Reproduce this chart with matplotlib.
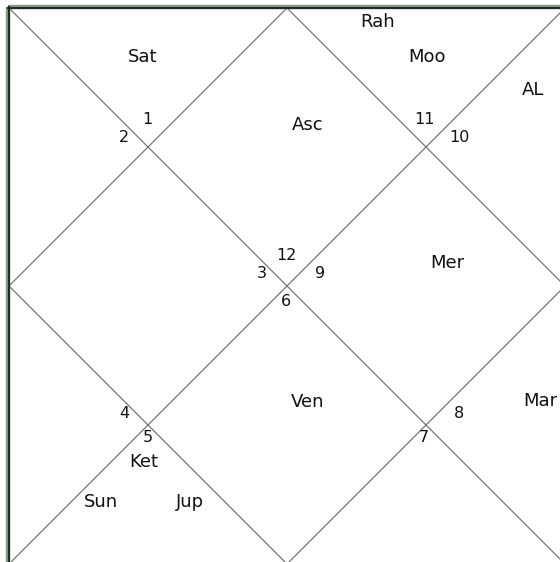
import matplotlib.pyplot as plt

# chart frame (pixel coordinates, square partly cropped at right/bottom)
x0, y0, side = 9, 8, 556

# house numbers and where they sit
house_nums = ['1', '2', '11', '10', '12', '3', '9', '6', '4', '5', '8', '7']
house_xy = [(147, 120), (124, 138), (425, 120), (459, 138), (286, 256),
            (262, 274), (320, 274), (286, 302), (124, 414), (148, 438),
            (459, 414), (424, 438)]

# planets / points
planets = ['Sat', 'Rah', 'Moo', 'AL', 'Asc', 'Mer', 'Ven', 'Mar',
           'Ket', 'Sun', 'Jup']
planet_xy = [(143, 57), (378, 22), (427, 57), (533, 90), (308, 125),
             (447, 263), (308, 402), (540, 401), (144, 462), (101, 502),
             (190, 502)]

fig = plt.figure(figsize=(5.6, 5.62), dpi=100)
ax = fig.add_axes([0, 0, 1, 1])
ax.set_xlim(0, 560)
ax.set_ylim(562, 0)
ax.axis('off')

x1, y1 = x0 + side, y0 + side
xm, ym = (x0 + x1) / 2, (y0 + y1) / 2
line_kw = dict(color='#707070', lw=0.85)
# diagonals
ax.plot([x0, x1], [y0, y1], **line_kw)
ax.plot([x0, x1], [y1, y0], **line_kw)
# inner diamond
ax.plot([xm, x1, xm, x0, xm], [y0, ym, y1, ym, y0], **line_kw)
# square border
ax.plot([x0, x1], [y1, y1], **line_kw)
ax.plot([x1, x1], [y0, y1], **line_kw)
ax.plot([x0 - 1, x0 - 1], [y0 - 1, 562], color='#8a968a', lw=3.2,
        solid_capstyle='butt')
ax.plot([x0 - 1, 560], [y0 - 1, y0 - 1], color='#8a968a', lw=3.2,
        solid_capstyle='butt')
ax.plot([x0 - 0.5, x0 - 0.5], [y0 - 1, 562], color='#1f2f1f', lw=1.5)
ax.plot([x0 - 1, 560], [y0 - 0.5, y0 - 0.5], color='#1f2f1f', lw=1.5)

for num, (x, y) in zip(house_nums, house_xy):
    ax.text(x, y, num, fontsize=11.5, family='DejaVu Sans',
            ha='center', va='center', color='#111111')

for name, (x, y) in zip(planets, planet_xy):
    ax.text(x, y, name, fontsize=13, family='DejaVu Sans',
            ha='center', va='center', color='#111111')

fig.savefig('out.png', dpi=100)
